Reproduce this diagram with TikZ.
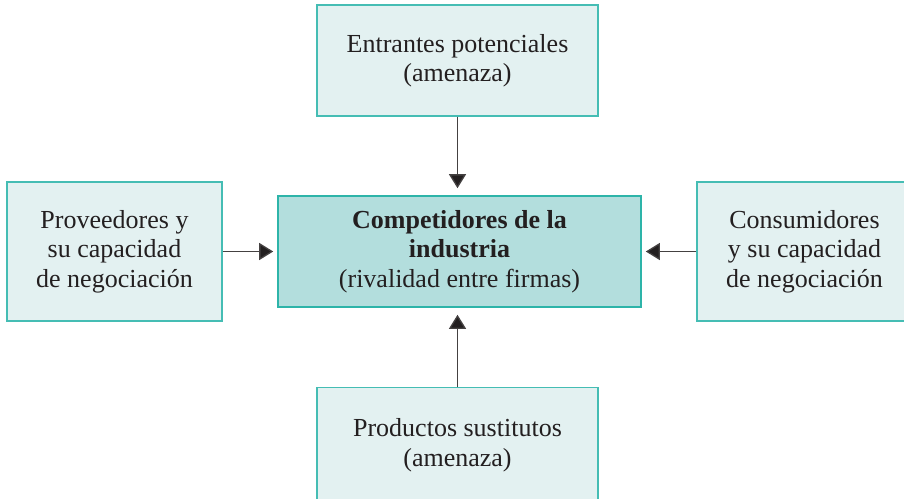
\documentclass[tikz,border=0pt]{standalone}
\usepackage{fontspec}
\setmainfont{Liberation Serif}
\usepackage{tikz}
\usetikzlibrary{arrows.meta}
\definecolor{boxfill}{HTML}{E3F1F1}
\definecolor{boxline}{HTML}{45BDB4}
\definecolor{corefill}{HTML}{B3DEDD}
\definecolor{coreline}{HTML}{2DB4A9}
\definecolor{ink}{HTML}{231F20}

\begin{document}
\begin{tikzpicture}[force/.style={rectangle, draw=boxline, fill=boxfill, line width=0.6pt, align=center,
					text=ink, inner sep=0pt, font=\fontsize{13}{14.75}\selectfont},
					core/.style={force, draw=coreline, fill=corefill, line width=0.8pt},
					push/.style={-{Triangle[length=7pt, width=8.5pt, fill=ink]}, line width=0.65pt, draw=ink!85, shorten >=3pt}]
	\useasboundingbox (0,0) rectangle (452pt,-249pt);
	\node[core, minimum width=181.5pt, minimum height=55.5pt] (rivals) at (229.75pt,-125.75pt)
		{\textbf{Competidores de la}\\\textbf{industria}\\(rivalidad entre firmas)};
	\node[force, minimum width=140.5pt, minimum height=55.5pt] (entrants) at (228.75pt,-30.25pt)
		{Entrantes potenciales\\(amenaza)};
	\node[force, minimum width=107.5pt, minimum height=69.5pt] (suppliers) at (57.25pt,-125.75pt)
		{Proveedores y\\su capacidad\\de negociación};
	\node[force, minimum width=107.5pt, minimum height=69.5pt] (buyers) at (402.25pt,-125.75pt)
		{Consumidores\\y su capacidad\\de negociación};
	\node[force, anchor=north, minimum width=140.5pt, minimum height=57.5pt] (substitutes) at (228.75pt,-193.5pt)
		{Productos sustitutos\\(amenaza)};
	\draw[push, shorten >=3.5pt] (entrants.south) -- (entrants.south |- rivals.north);
	\draw[push, shorten >=3.5pt] (substitutes.north) -- (substitutes.north |- rivals.south);
	\draw[push, shorten >=2pt] (suppliers) -- (rivals);
	\draw[push, shorten >=2pt] (buyers) -- (rivals);
\end{tikzpicture}
\end{document}
